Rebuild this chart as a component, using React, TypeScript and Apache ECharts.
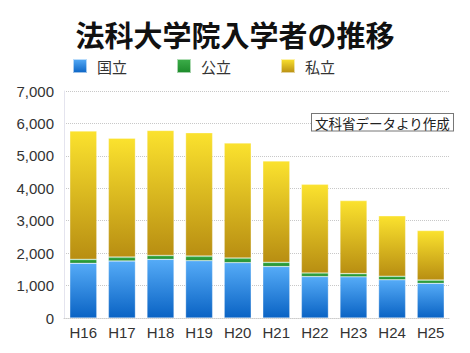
import React, { useEffect, useRef } from "react";
import * as echarts from "echarts";

const categories = ["H16", "H17", "H18", "H19", "H20", "H21", "H22", "H23", "H24", "H25"];
const national = [1690, 1760, 1810, 1770, 1710, 1590, 1280, 1270, 1180, 1070];
const publicU = [120, 120, 120, 140, 140, 130, 110, 100, 110, 100];
const privateU = [3957, 3664, 3854, 3803, 3547, 3124, 2732, 2250, 1860, 1528];
const seriesNames = ["国立", "公立", "私立"];
const yTicks = [0, 1000, 2000, 3000, 4000, 5000, 6000, 7000];

const FONT = "'Liberation Sans', 'Noto Sans CJK JP', sans-serif";
const CJK = "'Noto Sans CJK JP', sans-serif";

function grad(top: string, bottom: string) {
  return new echarts.graphic.LinearGradient(0, 0, 0, 1, [
    { offset: 0, color: top },
    { offset: 1, color: bottom },
  ]);
}

export default function App() {
  const ref = useRef<HTMLDivElement>(null);
  useEffect(() => {
    const chart = echarts.init(ref.current!, undefined, { renderer: "svg" });
    const colors = [
      grad("#55abf7", "#0a63c4"),
      grad("#3dae4a", "#1c8a2a"),
      grad("#fbe22e", "#b88e12"),
    ];
    const datas = [national, publicU, privateU];
    chart.setOption({
      animation: false,
      title: {
        text: "法科大学院入学者の推移",
        left: "center",
        top: 19,
        padding: 0,
        textStyle: { fontSize: 29, fontWeight: "bold", color: "#111", fontFamily: CJK },
      },
      legend: {
        left: 72,
        top: 58,
        padding: 0,
        itemWidth: 14,
        itemHeight: 14,
        itemGap: 49,
        icon: "rect",
        textStyle: { fontSize: 15, color: "#333", fontFamily: CJK, padding: [0, 0, 0, 5] },
        data: seriesNames,
      },
      graphic: [
        {
          type: "text",
          left: 311,
          top: 113,
          style: {
            text: "文科省データより作成",
            fontSize: 13.5,
            fontFamily: CJK,
            fill: "#222",
            backgroundColor: "#fff",
            borderColor: "#777",
            borderWidth: 1,
            padding: [2, 3, 1, 3],
          },
          z: 100,
        },
      ],
      grid: { left: 64, right: 20, top: 91, bottom: 35, containLabel: false },
      xAxis: {
        type: "category",
        data: categories,
        axisTick: { show: false },
        axisLine: { show: true, lineStyle: { color: "#ccc", type: "dotted" } },
        axisLabel: { fontSize: 15, color: "#333", fontFamily: FONT, margin: 7 },
      },
      yAxis: {
        type: "value",
        min: 0,
        max: 7000,
        interval: 1000,
        axisLine: { show: true, lineStyle: { color: "#e4e4ee" } },
        axisTick: { show: false },
        splitLine: { show: true, lineStyle: { color: "#c8c8c8", type: "dotted" } },
        axisLabel: {
          fontSize: 15,
          color: "#333",
          fontFamily: FONT,
          margin: 10,
          formatter: (v: number) => (yTicks.includes(v) ? v.toLocaleString("en-US") : ""),
        },
      },
      series: seriesNames.map((name, i) => ({
        name,
        type: "bar",
        stack: "total",
        barCategoryGap: "30%",
        data: datas[i],
        itemStyle: { color: colors[i], borderColor: "rgba(255,255,255,0.6)", borderWidth: 0.5 },
      })),
    });
    return () => chart.dispose();
  }, []);
  return <div ref={ref} style={{ width: 470, height: 353, marginLeft: -8, marginTop: -8 }} />;
}
